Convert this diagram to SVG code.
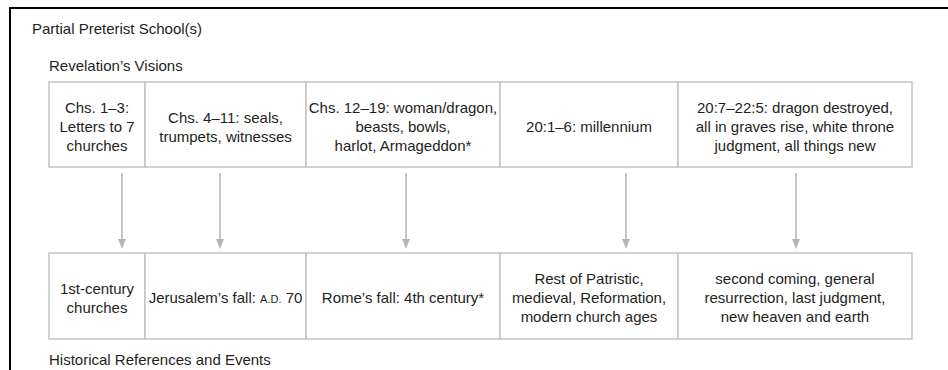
<svg xmlns="http://www.w3.org/2000/svg" width="948" height="370" viewBox="0 0 948 370">
<defs>
<style>
text{font-family:"Liberation Sans",Arial,sans-serif;font-size:15px;fill:#231f20}
.c{text-anchor:middle}
.box{fill:#fff;stroke:#c4c4c4;stroke-width:1.5}
.arr{stroke:#b5b5b5;stroke-width:1.5;fill:none}
.head{fill:#b5b5b5}
.sc{font-size:11px}
</style>
</defs>
<rect width="948" height="370" fill="#fff"/>
<rect x="10" y="8" width="1000" height="420" fill="none" stroke="#000" stroke-width="2"/>
<text x="32" y="34">Partial Preterist School(s)</text>
<text x="49" y="71">Revelation’s Visions</text>
<text x="49" y="365">Historical References and Events</text>

<g id="connectors">
<line class="arr" x1="122" y1="173" x2="122" y2="240"/>
<line class="arr" x1="220" y1="173" x2="220" y2="240"/>
<line class="arr" x1="406" y1="173" x2="406" y2="240"/>
<line class="arr" x1="626" y1="173" x2="626" y2="240"/>
<line class="arr" x1="796" y1="173" x2="796" y2="240"/>
<path class="head" d="M118,239 L126,239 L122,249 Z"/>
<path class="head" d="M216,239 L224,239 L220,249 Z"/>
<path class="head" d="M402,239 L410,239 L406,249 Z"/>
<path class="head" d="M622,239 L630,239 L626,249 Z"/>
<path class="head" d="M792,239 L800,239 L796,249 Z"/>
</g>

<g id="v1"><rect class="box" x="49" y="82" width="96" height="85"/>
<text class="c" x="97" y="112.5">Chs. 1–3:</text><text class="c" x="97" y="131.5">Letters to 7</text><text class="c" x="97" y="150.5">churches</text></g>
<g id="v2"><rect class="box" x="145" y="82" width="161" height="85"/>
<text class="c" x="225.5" y="122.5">Chs. 4–11: seals,</text><text class="c" x="225.5" y="141.5">trumpets, witnesses</text></g>
<g id="v3"><rect class="box" x="306" y="82" width="194" height="85"/>
<text class="c" x="403" y="112.5">Chs. 12–19: woman/dragon,</text><text class="c" x="403" y="131.5">beasts, bowls,</text><text class="c" x="403" y="150.5">harlot, Armageddon*</text></g>
<g id="v4"><rect class="box" x="500" y="82" width="178" height="85"/>
<text class="c" x="589" y="131.5">20:1–6: millennium</text></g>
<g id="v5"><rect class="box" x="678" y="82" width="234" height="85"/>
<text class="c" x="795" y="112.5">20:7–22:5: dragon destroyed,</text><text class="c" x="795" y="131.5">all in graves rise, white throne</text><text class="c" x="795" y="150.5">judgment, all things new</text></g>

<g id="h1"><rect class="box" x="49" y="253" width="96" height="86"/>
<text class="c" x="97" y="293.5">1st-century</text><text class="c" x="97" y="312.5">churches</text></g>
<g id="h2"><rect class="box" x="145" y="253" width="161" height="86"/>
<text class="c" x="225.5" y="303">Jerusalem’s fall: <tspan class="sc">A.D.</tspan> 70</text></g>
<g id="h3"><rect class="box" x="306" y="253" width="194" height="86"/>
<text class="c" x="403" y="303">Rome’s fall: 4th century*</text></g>
<g id="h4"><rect class="box" x="500" y="253" width="178" height="86"/>
<text class="c" x="589" y="284">Rest of Patristic,</text><text class="c" x="589" y="303">medieval, Reformation,</text><text class="c" x="589" y="322">modern church ages</text></g>
<g id="h5"><rect class="box" x="678" y="253" width="234" height="86"/>
<text class="c" x="795" y="284">second coming, general</text><text class="c" x="795" y="303">resurrection, last judgment,</text><text class="c" x="795" y="322">new heaven and earth</text></g>
</svg>
